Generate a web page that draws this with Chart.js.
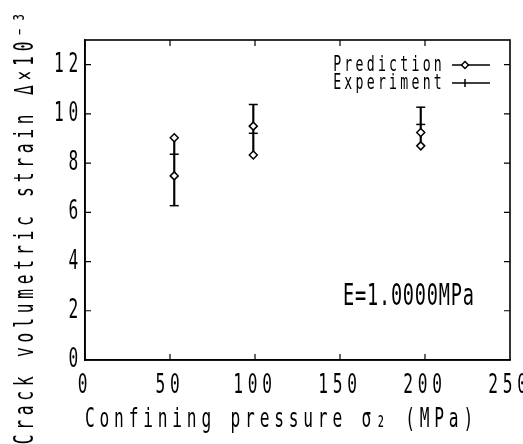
<!DOCTYPE html>
<html lang="en">
<head>
<meta charset="UTF-8">
<title>Crack volumetric strain</title>
<script src="https://cdn.jsdelivr.net/npm/chart.js"></script>
<style>
  body { margin: 0; background: #fff; }
  #box { width: 523px; height: 444px; }
</style>
</head>
<body>
<div id="box"><canvas id="grafico" width="523" height="444"></canvas></div>
<script>
  // confining pressure (MPa)
  var pressoes = [52.5, 99, 197.5];
  // crack volumetric strain x10^-3, two readings per pressure
  var previsaoA = [9.03, 9.50, 9.24];
  var previsaoB = [7.48, 8.33, 8.70];
  var experimentoA = [8.36, 10.38, 10.27];
  var experimentoB = [6.27, 9.21, 9.57];
  var ticksX = [0, 50, 100, 150, 200, 250];
  var ticksY = [0, 2, 4, 6, 8, 10, 12];

  var fonte = "'DejaVu Sans Mono', monospace";
  var aperto = 0.6; // letra de plotter: alta e estreita
  Chart.defaults.font.family = fonte;
  Chart.defaults.color = '#000';

  var canvas = document.getElementById('grafico');
  var ctx = canvas.getContext('2d');
  var fillOriginal = ctx.fillText.bind(ctx);
  ctx.fillText = function (texto, x, y) {
    ctx.save();
    ctx.translate(x, y);
    ctx.scale(aperto, 1);
    fillOriginal(texto, 0, 0);
    ctx.restore();
  };

  var previsao = [];
  var experimento = [];
  var faixas = [];
  for (var i = 0; i < pressoes.length; i++) {
    previsao.push({ x: pressoes[i], y: previsaoA[i] });
    previsao.push({ x: pressoes[i], y: previsaoB[i] });
    experimento.push({ x: pressoes[i], y: experimentoA[i] });
    experimento.push({ x: pressoes[i], y: experimentoB[i] });
    var todos = [previsaoA[i], previsaoB[i], experimentoA[i], experimentoB[i]];
    faixas.push({ x: pressoes[i], y: [Math.min.apply(null, todos), Math.max.apply(null, todos)] });
  }

  // moldura, tracinhos para dentro, legenda, titulo do eixo y e anotacao
  var moldura = {
    id: 'moldura',
    beforeDraw: function (chart) {
      chart.ctx.letterSpacing = '8px';
    },
    afterDraw: function (chart) {
      var c = chart.ctx;
      var a = chart.chartArea;
      var sx = chart.scales.x, sy = chart.scales.y;
      c.save();
      c.letterSpacing = '0px';
      c.strokeStyle = '#000';
      c.lineWidth = 1.6;
      c.strokeRect(a.left, a.top, a.right - a.left, a.bottom - a.top);
      c.lineWidth = 1.2;
      c.beginPath();
      sx.ticks.forEach(function (t) {
        if (t.value <= sx.min || t.value >= sx.max) return;
        var px = sx.getPixelForValue(t.value);
        c.moveTo(px, a.bottom); c.lineTo(px, a.bottom - 6);
        c.moveTo(px, a.top); c.lineTo(px, a.top + 6);
      });
      sy.ticks.forEach(function (t) {
        if (t.value <= sy.min || t.value >= sy.max) return;
        var py = sy.getPixelForValue(t.value);
        c.moveTo(a.left, py); c.lineTo(a.left + 6, py);
        c.moveTo(a.right, py); c.lineTo(a.right - 6, py);
      });
      c.stroke();

      // legenda
      var nomes = ['Prediction', 'Experiment'];
      var ys = [a.top + 25, a.top + 43];
      for (var k = 0; k < 2; k++) {
        c.letterSpacing = '5.4px';
        c.font = "22px " + fonte;
        c.fillStyle = '#000';
        c.textAlign = 'right';
        c.textBaseline = 'middle';
        c.fillText(nomes[k], a.right - 65, ys[k]);
        c.beginPath();
        c.lineWidth = 1.5;
        c.moveTo(a.right - 58, ys[k]); c.lineTo(a.right - 20, ys[k]);
        c.stroke();
        c.fillStyle = '#fff';
        Chart.helpers.drawPoint(c, {
          pointStyle: k == 0 ? 'rectRot' : 'line',
          radius: k == 0 ? 3.5 : 4,
          rotation: k == 0 ? 0 : 90,
          borderWidth: 1.5
        }, a.right - 45, ys[k]);
      }

      // titulo do eixo y
      c.fillStyle = '#000';
      c.letterSpacing = '8px';
      c.font = "27px " + fonte;
      c.textAlign = 'center';
      c.textBaseline = 'alphabetic';
      c.save();
      c.translate(33, 226);
      c.rotate(-Math.PI / 2);
      c.fillText('Crack volumetric strain Δ×10⁻³', 0, 0);
      c.restore();

      // anotacao
      c.letterSpacing = '1.3px';
      c.font = "31px " + fonte;
      c.textBaseline = 'middle';
      c.fillText('E=1.0000MPa', sx.getPixelForValue(190.5), sy.getPixelForValue(2.55));
      c.restore();
    }
  };

  new Chart(canvas, {
    type: 'scatter',
    data: {
      datasets: [{
        label: 'Prediction',
        data: previsao,
        pointStyle: 'rectRot',
        pointRadius: 4,
        borderColor: '#000',
        backgroundColor: '#fff',
        borderWidth: 1.5,
        order: 1
      }, {
        label: 'Experiment',
        data: experimento,
        pointStyle: 'line',
        pointRadius: 4.5,
        borderColor: '#000',
        borderWidth: 1.5,
        order: 2
      }, {
        type: 'bar',
        label: 'faixa',
        data: faixas,
        backgroundColor: '#000',
        barThickness: 1.5,
        grouped: false,
        order: 3
      }]
    },
    options: {
      responsive: false,
      animation: false,
      layout: { padding: { top: 40, right: 13, left: 0, bottom: 0 } },
      plugins: { legend: { display: false }, tooltip: { enabled: false } },
      scales: {
        x: {
          type: 'linear',
          offset: false,
          min: 0,
          max: 250,
          afterBuildTicks: function (s) { s.ticks = ticksX.map(function (v) { return { value: v }; }); },
          ticks: { font: { size: 27 }, padding: 10 },
          grid: { display: false, drawTicks: false },
          border: { color: '#000', width: 1.6 },
          title: { display: true, align: 'start', text: 'Confining pressure σ₂ (MPa)', font: { size: 27 }, padding: { top: 0, bottom: 8 } },
          afterFit: function (s) { s.height = 84; s.paddingLeft = 0; s.paddingRight = 0; }
        },
        y: {
          type: 'linear',
          min: 0,
          max: 13,
          afterBuildTicks: function (s) { s.ticks = ticksY.map(function (v) { return { value: v }; }); },
          ticks: { font: { size: 27 }, padding: 2 },
          grid: { display: false, drawTicks: false },
          border: { color: '#000', width: 1.6 },
          title: { display: false },
          afterFit: function (s) { s.width = 85; s.paddingTop = 0; s.paddingBottom = 0; }
        }
      }
    },
    plugins: [moldura]
  });
</script>
</body>
</html>
